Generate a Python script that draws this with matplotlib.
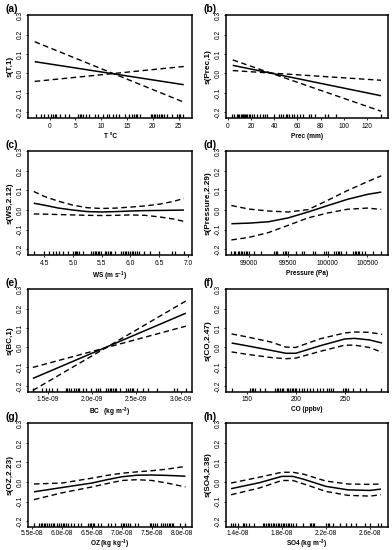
import matplotlib
matplotlib.use("Agg")
import matplotlib.pyplot as plt
import numpy as np

plt.rcParams['font.family'] = ['Liberation Sans Narrow', 'Liberation Sans', 'DejaVu Sans']
plt.rcParams['mathtext.fontset'] = 'custom'
plt.rcParams['mathtext.rm'] = 'Liberation Sans'
plt.rcParams['mathtext.default'] = 'regular'

# ---------------- data ----------------
# (a) T
a_x = [-2.9, 26.0]
a_fit = [0.061, -0.058]
a_d1 = [0.164, -0.148]
a_d2 = [-0.041, 0.036]
a_rug = [-2.6, -1.7, -1.1, -0.3, 0.3, 0.6, 1.0, 1.3, 2.1, 2.9, 3.8, 5.4, 5.8, 6.1, 6.4, 7.1, 7.7,
         8.7, 9.3, 10.3, 11.1, 11.5, 12.2, 12.8, 13.5, 14.7, 15.4, 16.0, 16.3, 16.7, 17.0, 17.6,
         19.6, 19.9, 20.2, 20.5, 20.8, 21.2, 21.5, 21.8, 22.1, 22.8, 23.7, 24.7, 25.0, 25.3, 25.8]
a_xticks = [0, 5, 10, 15, 20, 25]
a_xticklabels = ["0", "5", "10", "15", "20", "25"]

# (b) Prec
b_x = [4.3, 132.0]
b_fit = [0.042, -0.115]
b_d1 = [0.070, -0.195]
b_d2 = [0.015, -0.035]
b_rug = [4, 5, 8, 9, 10, 11, 12, 13, 14, 15, 16, 17, 18, 19, 21, 23, 25, 28, 30, 32, 34, 40, 44,
         46, 48, 50, 51, 53, 55, 57, 60, 62, 65, 70, 72, 75, 84, 86, 93, 132]
b_xticks = [0, 20, 40, 60, 80, 100, 120]
b_xticklabels = ["0", "20", "40", "60", "80", "100", "120"]

# (c) WS
c_x = [4.32, 4.5, 4.75, 5.0, 5.25, 5.5, 5.75, 6.0, 6.25, 6.5, 6.75, 6.93]
c_fit = [0.035, 0.025, 0.010, 0.000, -0.008, -0.010, -0.008, -0.005, -0.003, -0.002, -0.001, 0.000]
c_up = [0.095, 0.070, 0.045, 0.025, 0.012, 0.008, 0.010, 0.015, 0.021, 0.030, 0.044, 0.060]
c_lo = [-0.020, -0.021, -0.023, -0.025, -0.027, -0.028, -0.027, -0.025, -0.027, -0.035, -0.046, -0.058]
c_rug = [4.32, 4.5, 4.59, 4.65, 4.70, 4.76, 4.82, 4.91, 5.01, 5.03, 5.06, 5.08, 5.11, 5.17, 5.32,
         5.35, 5.38, 5.41, 5.44, 5.46, 5.49, 5.55, 5.58, 5.61, 5.64, 5.67, 5.73, 5.84, 5.87, 5.90,
         5.93, 5.96, 5.99, 6.02, 6.05, 6.08, 6.12, 6.15, 6.23, 6.34, 6.49, 6.72, 6.78, 6.93]
c_xticks = [4.5, 5.0, 5.5, 6.0, 6.5, 7.0]
c_xticklabels = ["4.5", "5.0", "5.5", "6.0", "6.5", "7.0"]

# (d) Pressure
d_x = [98779, 99000, 99250, 99500, 99750, 100000, 100250, 100500, 100677]
d_fit = [-0.070, -0.067, -0.060, -0.040, -0.010, 0.023, 0.055, 0.080, 0.092]
d_up = [0.023, 0.005, -0.005, -0.010, 0.002, 0.050, 0.100, 0.145, 0.175]
d_lo = [-0.153, -0.140, -0.115, -0.078, -0.040, -0.015, 0.004, 0.010, 0.003]
d_rug = [98779, 98809, 98830, 98864, 98881, 98898, 98915, 98936, 98958, 98979, 99000, 99064,
         99149, 99318, 99340, 99361, 99433, 99459, 99476, 99501, 99594, 99679, 99701, 99807,
         99837, 99955, 99977, 99998, 100083, 100104, 100125, 100146, 100172, 100231, 100316,
         100338, 100359, 100380, 100401, 100431, 100465, 100571, 100677]
d_xticks = [99000, 99500, 100000, 100500]
d_xticklabels = ["99000", "99500", "100000", "100500"]

# (e) BC
e_x = [1.33e-9, 3.06e-9]
e_fit = [-0.160, 0.177]
e_d1 = [-0.222, 0.240]
e_d2 = [-0.103, 0.110]
e_rug = [1.332, 1.435, 1.473, 1.511, 1.55, 1.607, 1.702, 1.721, 1.74, 1.76, 1.798, 1.817, 1.836,
         1.855, 1.893, 1.931, 1.989, 2.046, 2.069, 2.084, 2.16, 2.179, 2.198, 2.218, 2.237, 2.256,
         2.275, 2.313, 2.389, 2.408, 2.427, 2.447, 2.466, 2.504, 2.58, 2.637, 2.733, 2.924, 2.962,
         3.057]
e_xticks = [1.5e-9, 2.0e-9, 2.5e-9, 3.0e-9]
e_xticklabels = ["1.5e-09", "2.0e-09", "2.5e-09", "3.0e-09"]

# (f) CO
f_x = [134.7, 150, 175, 190, 200, 225, 250, 260, 275, 288]
f_fit = [0.023, 0.009, -0.015, -0.030, -0.030, 0.009, 0.044, 0.047, 0.039, 0.023]
f_up = [0.070, 0.055, 0.028, 0.002, 0.000, 0.045, 0.075, 0.080, 0.078, 0.068]
f_lo = [-0.023, -0.035, -0.052, -0.058, -0.055, -0.020, 0.012, 0.012, 0.000, -0.025]
f_rug = [134.7, 153.4, 155.1, 156.8, 158.5, 163.6, 168.6, 178.8, 180.5, 182.2, 183.9, 185.6,
         187.3, 190.7, 192.4, 194.1, 195.8, 197.5, 199.2, 200.8, 203.6, 205.9, 208.3, 211,
         214.4, 217.8, 221.2, 224.6, 228, 231.4, 233.4, 235.8, 238.1, 248.3, 250, 251.7, 253.4,
         258.5, 265.3, 272, 287.3]
f_xticks = [150, 200, 250]
f_xticklabels = ["150", "200", "250"]

# (g) OZ
g_x = [5.53e-8, 6.0e-8, 6.5e-8, 6.75e-8, 7.0e-8, 7.25e-8, 7.5e-8, 7.75e-8, 8.06e-8]
g_fit = [-0.050, -0.028, -0.005, 0.012, 0.027, 0.035, 0.036, 0.034, 0.030]
g_up = [-0.010, -0.005, 0.020, 0.034, 0.045, 0.052, 0.058, 0.066, 0.080]
g_lo = [-0.090, -0.055, -0.025, -0.008, 0.008, 0.012, 0.008, -0.005, -0.025]
g_rug = [5.53, 5.61, 5.64, 5.67, 5.70, 5.72, 5.75, 5.78, 5.81, 5.84, 5.87, 5.92, 5.95, 5.98, 6.01,
         6.03, 6.06, 6.09, 6.15, 6.20, 6.26, 6.31, 6.43, 6.46, 6.48, 6.51, 6.54, 6.60, 6.65, 6.76,
         6.82, 6.88, 6.99, 7.02, 7.04, 7.07, 7.10, 7.13, 7.21, 7.27, 7.47, 7.49, 7.52, 7.55, 7.58,
         7.66, 7.69, 7.72, 7.75, 7.78, 7.80, 7.83, 7.86, 7.97, 8.06]
g_xticks = [5.5e-8, 6.0e-8, 6.5e-8, 7.0e-8, 7.5e-8, 8.0e-8]
g_xticklabels = ["5.5e-08", "6.0e-08", "6.5e-08", "7.0e-08", "7.5e-08", "8.0e-08"]

# (h) SO4
h_x = [1.34e-8, 1.6e-8, 1.8e-8, 1.9e-8, 2.0e-8, 2.2e-8, 2.4e-8, 2.6e-8, 2.70e-8]
h_fit = [-0.034, -0.003, 0.029, 0.029, 0.014, -0.022, -0.040, -0.043, -0.036]
h_up = [-0.005, 0.025, 0.050, 0.050, 0.040, 0.005, -0.010, -0.012, -0.010]
h_lo = [-0.065, -0.030, 0.008, 0.008, -0.010, -0.048, -0.068, -0.072, -0.065]
h_rug = [1.339, 1.361, 1.379, 1.4, 1.445, 1.461, 1.476, 1.506, 1.552, 1.627, 1.642, 1.658, 1.673,
         1.688, 1.703, 1.718, 1.733, 1.748, 1.764, 1.779, 1.794, 1.809, 1.824, 1.839, 1.855, 1.870,
         1.885, 1.9, 1.930, 1.991, 2.052, 2.067, 2.082, 2.097, 2.203, 2.218, 2.233, 2.264, 2.324,
         2.385, 2.430, 2.476, 2.552, 2.597, 2.673, 2.703]
h_xticks = [1.4e-8, 1.8e-8, 2.2e-8, 2.6e-8]
h_xticklabels = ["1.4e-08", "1.8e-08", "2.2e-08", "2.6e-08"]

yticks = [-0.2, -0.1, 0.0, 0.1, 0.2, 0.3]
yticklabels = ["-0.2", "-0.1", "0.0", "0.1", "0.2", "0.3"]

# ---------------- layout ----------------
W, H = 392, 550
fig = plt.figure(figsize=(W / 100, H / 100), dpi=100)

def rect(l, r, t, b):
    return [l / W, 1 - b / H, (r - l) / W, (b - t) / H]

rows = [(15, 118), (151, 255), (289, 392), (423, 527)]
tpad = [3.6, 3.6, 2.8, 2.0]
lpad = [2.4, 2.2, 2.0, 1.0]
cols = [(28, 192), (226, 388)]
LAB = ['Liberation Sans', 'DejaVu Sans']

panels = [
    dict(tag="(a)", row=0, col=0, x=a_x, fit=a_fit, d=(a_d1, a_d2), rug=a_rug, rs=1,
         xt=a_xticks, xtl=a_xticklabels, xl=(-4.2, 27.6), ylab="s(T,1)", xlab="T \u00b0C"),
    dict(tag="(b)", row=0, col=1, x=b_x, fit=b_fit, d=(b_d1, b_d2), rug=b_rug, rs=1,
         xt=b_xticks, xtl=b_xticklabels, xl=(-1.5, 138), ylab="s(Prec,1)", xlab="Prec (mm)"),
    dict(tag="(c)", row=1, col=0, x=c_x, fit=c_fit, d=(c_up, c_lo), rug=c_rug, rs=1,
         xt=c_xticks, xtl=c_xticklabels, xl=(4.22, 7.07), ylab="s(WS,2.12)", xlab="WS (m s$^{-1}$)"),
    dict(tag="(d)", row=1, col=1, x=d_x, fit=d_fit, d=(d_up, d_lo), rug=d_rug, rs=1,
         xt=d_xticks, xtl=d_xticklabels, xl=(98711, 100762), ylab="s(Pressure,2.29)", xlab="Pressure (Pa)"),
    dict(tag="(e)", row=2, col=0, x=e_x, fit=e_fit, d=(e_d1, e_d2), rug=e_rug, rs=1e-9,
         xt=e_xticks, xtl=e_xticklabels, xl=(1.275e-9, 3.13e-9), ylab="s(BC,1)", xlab="BC   (kg m$^{-3}$)"),
    dict(tag="(f)", row=2, col=1, x=f_x, fit=f_fit, d=(f_up, f_lo), rug=f_rug, rs=1,
         xt=f_xticks, xtl=f_xticklabels, xl=(129, 294), ylab="s(CO,2.47)", xlab="CO (ppbv)"),
    dict(tag="(g)", row=3, col=0, x=g_x, fit=g_fit, d=(g_up, g_lo), rug=g_rug, rs=1e-8,
         xt=g_xticks, xtl=g_xticklabels, xl=(5.43e-8, 8.17e-8), ylab="s(OZ,2.23)", xlab="OZ (kg kg$^{-1}$)"),
    dict(tag="(h)", row=3, col=1, x=h_x, fit=h_fit, d=(h_up, h_lo), rug=h_rug, rs=1e-8,
         xt=h_xticks, xtl=h_xticklabels, xl=(1.294e-8, 2.764e-8), ylab="s(SO4,2.38)", xlab="SO4 (kg m$^{-3}$)"),
]

for p in panels:
    t, b = rows[p["row"]]
    l, r = cols[p["col"]]
    ax = fig.add_axes(rect(l, r, t, b))
    ax.plot(p["x"], p["fit"], color="black", lw=1.1, solid_capstyle="butt")
    for d in p["d"]:
        ax.plot(p["x"], d, color="black", lw=1.0, ls=(0, (4, 2.5)))
    rugx = np.array(p["rug"]) * p["rs"]
    ax.vlines(rugx, 0.0, 0.04, transform=ax.get_xaxis_transform(), color="black", lw=0.9)
    ax.set_xlim(*p["xl"])
    ax.set_ylim(-0.23, 0.302)
    ax.set_xticks(p["xt"])
    ax.set_xticklabels(p["xtl"])
    ax.set_yticks(yticks)
    ax.set_yticklabels(yticklabels, rotation=90, va="center")
    ax.tick_params(axis="both", labelsize=4.8, length=1.5, width=0.6)
    ax.tick_params(axis="x", pad=tpad[p["row"]] - 1.5)
    ax.tick_params(axis="y", pad=1.5)
    for s in ax.spines.values():
        s.set_linewidth(1.1)
    ax.set_ylabel(p["ylab"], fontsize=5.9, fontweight="bold", labelpad=2, family=LAB)
    ax.set_xlabel(p["xlab"], fontsize=4.7, fontweight="bold", labelpad=lpad[p["row"]], family=LAB)
    fig.text((l - 23) / W, 1 - (t - 1) / H, p["tag"], fontsize=7.5, fontweight="bold",
             ha="left", va="bottom", family=LAB)

fig.savefig("out.png", dpi=100)
